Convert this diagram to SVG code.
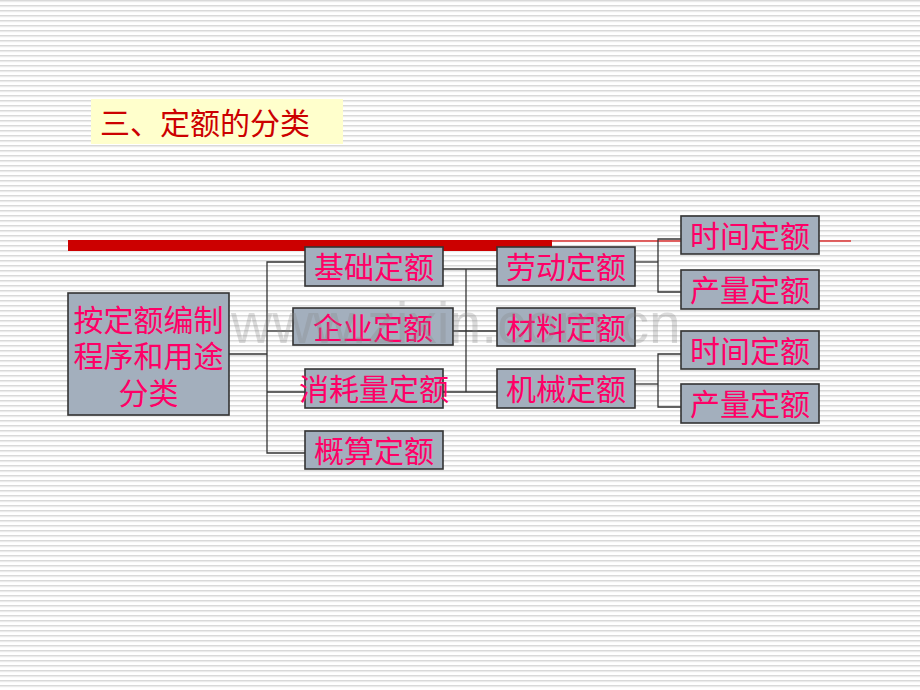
<svg xmlns="http://www.w3.org/2000/svg" width="920" height="690" viewBox="0 0 920 690">
<defs>
<pattern id="stripes" x="0" y="0" width="10" height="5" patternUnits="userSpaceOnUse">
<rect x="0" y="0" width="10" height="5" fill="#ffffff"/>
<rect x="0" y="0" width="10" height="1" fill="#d9d9d9"/>
<rect x="0" y="1" width="10" height="1.2" fill="#ebebeb"/>
</pattern>
<style>
.box{fill:#a3afbd;stroke:#333333;stroke-width:1.6}
.lbl{font-family:"Noto Sans CJK SC","Noto Sans CJK TC",sans-serif;font-size:30px;fill:#ff0066;text-anchor:middle}
.conn{fill:none;stroke:#333333;stroke-width:1.3}
</style>
</defs>
<rect x="0" y="0" width="920" height="690" fill="url(#stripes)"/>

<g id="title">
<rect x="91" y="99" width="252" height="45" fill="#ffffcc"/>
<text x="100" y="134" font-family="'Noto Sans CJK SC',sans-serif" font-size="30" fill="#cc0000">三、定额的分类</text>
</g>

<g id="redbar">
<rect x="68" y="240" width="484" height="11" fill="#cc0000"/>
<line x1="552" y1="241" x2="851" y2="241" stroke="#dd3333" stroke-width="1.3"/>
</g>

<g id="connectors">
<polyline class="conn" points="229,354 267,354"/>
<polyline class="conn" points="305,262 267,262 267,453 305,453"/>
<line class="conn" x1="267" y1="331" x2="293" y2="331"/>
<line class="conn" x1="267" y1="392" x2="305" y2="392"/>
<line class="conn" x1="443" y1="269" x2="497" y2="269"/>
<line class="conn" x1="453" y1="331" x2="497" y2="331"/>
<line class="conn" x1="443" y1="392" x2="497" y2="392"/>
<line class="conn" x1="466" y1="269" x2="466" y2="392"/>
<line class="conn" x1="635" y1="262" x2="658" y2="262"/>
<polyline class="conn" points="681,239 658,239 658,292 681,292"/>
<line class="conn" x1="635" y1="384" x2="658" y2="384"/>
<polyline class="conn" points="681,354 658,354 658,407 681,407"/>
</g>

<g id="n-main">
<rect class="box" x="68" y="293" width="161" height="122"/>
<text class="lbl" x="148.5" y="331">按定额编制</text>
<text class="lbl" x="148.5" y="367">程序和用途</text>
<text class="lbl" x="148.5" y="404">分类</text>
</g>

<g id="n-jichu"><rect class="box" x="305" y="247" width="138" height="39"/><text class="lbl" x="374" y="278">基础定额</text></g>
<g id="n-qiye"><rect class="box" x="293" y="308" width="160" height="37"/><text class="lbl" x="373" y="339">企业定额</text></g>
<g id="n-xiaohao"><rect class="box" x="305" y="369" width="138" height="39"/><text class="lbl" x="374" y="400">消耗量定额</text></g>
<g id="n-gaisuan"><rect class="box" x="305" y="431" width="138" height="38"/><text class="lbl" x="374" y="462">概算定额</text></g>

<g id="n-laodong"><rect class="box" x="497" y="247" width="138" height="39"/><text class="lbl" x="566" y="278">劳动定额</text></g>
<g id="n-cailiao"><rect class="box" x="497" y="308" width="138" height="38"/><text class="lbl" x="566" y="339">材料定额</text></g>
<g id="n-jixie"><rect class="box" x="497" y="369" width="138" height="39"/><text class="lbl" x="566" y="400">机械定额</text></g>

<g id="n-shijian1"><rect class="box" x="681" y="216" width="138" height="38"/><text class="lbl" x="750" y="247">时间定额</text></g>
<g id="n-chanliang1"><rect class="box" x="681" y="270" width="138" height="39"/><text class="lbl" x="750" y="301">产量定额</text></g>
<g id="n-shijian2"><rect class="box" x="681" y="331" width="138" height="38"/><text class="lbl" x="750" y="362">时间定额</text></g>
<g id="n-chanliang2"><rect class="box" x="681" y="384" width="138" height="39"/><text class="lbl" x="750" y="415">产量定额</text></g>

<text x="231" y="343" font-family="'Liberation Sans',Arial,sans-serif" font-size="57" fill="#888888" fill-opacity="0.3">www.zixin.com.cn</text>
</svg>
